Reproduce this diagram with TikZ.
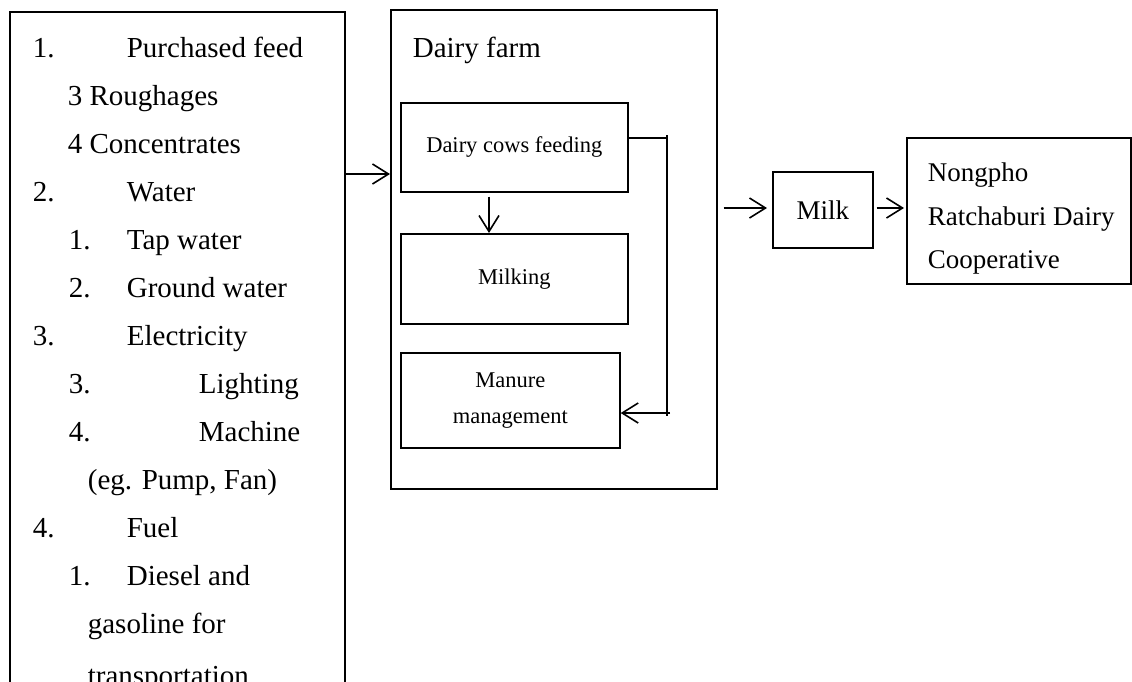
\documentclass[tikz,border=0pt]{standalone}
\usepackage{fontspec}
\setmainfont{Liberation Serif}
\usetikzlibrary{arrows.meta}
\begin{document}
\begin{tikzpicture}[x=1pt,y=-1pt,line width=1.7pt,
  box/.style={draw,line width=1.7pt,inner sep=0pt,anchor=north west},
  arr/.style={-{Straight Barb[length=16pt,width=20pt,line width=1.6pt]}},
  lt/.style={font=\fontsize{29}{33}\selectfont,inner sep=0pt,anchor=base west},
  st/.style={font=\fontsize{22.5}{26}\selectfont},
  ct/.style={font=\fontsize{27}{31}\selectfont,inner sep=0pt,anchor=base west}]
\useasboundingbox (0,0) rectangle (1132,681);
\clip (0,0) rectangle (1132,681);
% left box
\node[box,minimum width=335pt,minimum height=720pt] (inputs) at (9,11) {};
\node[lt] (n1) at (32,57) {1.};
\node[lt] (t1) at (126,57) {Purchased feed};
\node[lt] (t2) at (67,105) {3 Roughages};
\node[lt] (t3) at (67,153) {4 Concentrates};
\node[lt] (n4) at (32,201) {2.};
\node[lt] (t4) at (126,201) {Water};
\node[lt] (n5) at (68,249) {1.};
\node[lt] (t5) at (126,249) {Tap water};
\node[lt] (n6) at (68,297) {2.};
\node[lt] (t6) at (126,297) {Ground water};
\node[lt] (n7) at (32,345) {3.};
\node[lt] (t7) at (126,345) {Electricity};
\node[lt] (n8) at (68,393) {3.};
\node[lt] (t8) at (198,393) {Lighting};
\node[lt] (n9) at (68,441) {4.};
\node[lt] (t9) at (198,441) {Machine};
\node[lt] (t10) at (87,489) {(eg. Pump, Fan)};
\node[lt] (n11) at (32,537) {4.};
\node[lt] (t11) at (126,537) {Fuel};
\node[lt] (n12) at (68,585) {1.};
\node[lt] (t12) at (126,585) {Diesel and};
\node[lt] (t13) at (87,633) {gasoline for};
\node[lt] (t14) at (87,685) {transportation};
% dairy farm
\node[box,minimum width=326pt,minimum height=479pt] (farm) at (390,9) {};
\node[lt] (farmlbl) at (412,57) {Dairy farm};
\node[box,st,minimum width=227pt,minimum height=89pt] (feed) at (400,102) {Dairy cows feeding};
\node[box,st,minimum width=227pt,minimum height=90pt] (milking) at (400,233) {Milking};
\node[box,st,minimum width=219pt,minimum height=95pt,align=center] (manure) at (400,352) {Manure\\[10pt]management};
% milk and coop
\node[box,font=\fontsize{27}{31}\selectfont,minimum width=100pt,minimum height=76pt] (milk) at (772,171) {Milk};
\node[box,minimum width=224pt,minimum height=146pt] (coop) at (906,137) {};
\node[ct] (c1) at (927,181) {Nongpho};
\node[ct] (c2) at (927,225) {Ratchaburi Dairy};
\node[ct] (c3) at (927,268) {Cooperative};
% connectors
\coordinate (ya) at (0,174);
\coordinate (ym) at (0,208);
\coordinate (xd) at (489,0);
\coordinate (fbtop) at (667,135);
\coordinate (fbA) at (667,138);
\coordinate (fbB) at (667,413);
\coordinate (fbbot) at (667,416);
\coordinate (fbR) at (670,413);
\draw[arr] (inputs.east |- ya) -- (farm.west |- ya);
\draw[arr,shorten <=4pt] (feed.south -| xd) -- (milking.north -| xd);
\draw (feed.east |- fbA) -- (fbA);
\draw (fbtop) -- (fbbot);
\draw[arr] (fbR) -- (manure.east |- fbB);
\draw[arr,shorten <=6pt,shorten >=5pt] (farm.east |- ym) -- (milk.west |- ym);
\draw[arr,shorten <=3pt,shorten >=2pt] (milk.east |- ym) -- (coop.west |- ym);
\end{tikzpicture}
\end{document}
